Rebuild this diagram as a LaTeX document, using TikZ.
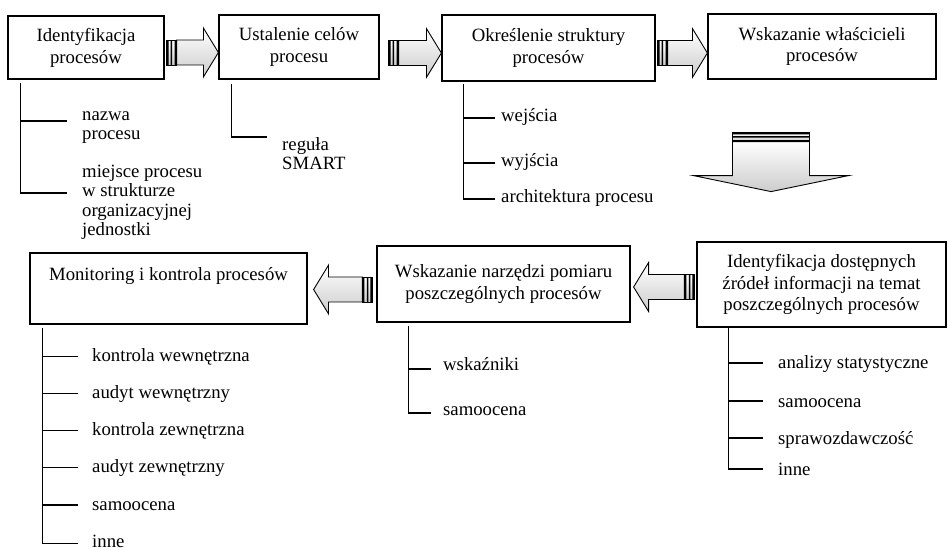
\documentclass[tikz,border=0pt]{standalone}
\usepackage{fontspec}
\setmainfont{Liberation Serif}
\usetikzlibrary{calc}

\newcommand{\boxtextfont}{\fontsize{18.8}{22}\selectfont}
\newcommand{\itemtextfont}{\fontsize{18.8}{19.5}\selectfont}

% tail, tip, direction (1 = right, -1 = left)
\newcommand{\blockarrow}[3]{%
  \shade[fat] let \p1=(#1), \p2=(#2) in
    ({\x1+10*(#3)},{\y1+12.5}) -- ({\x2-15*(#3)},{\y1+12.5}) -- ({\x2-15*(#3)},{\y1+24.5})
    -- (\x2,\y1) -- ({\x2-15*(#3)},{\y1-24.5}) -- ({\x2-15*(#3)},{\y1-12.5})
    -- ({\x1+10*(#3)},{\y1-12.5}) -- cycle;
  \draw[fat] let \p1=(#1) in ({\x1},{\y1-12.5}) rectangle ({\x1+10*(#3)},{\y1+12.5});
  \fill let \p1=(#1) in
    ({\x1},{\y1-12.5}) rectangle ({\x1+2*(#3)},{\y1+12.5})
    ({\x1+4*(#3)},{\y1-12.5}) rectangle ({\x1+5.5*(#3)},{\y1+12.5})
    ({\x1+8*(#3)},{\y1-12.5}) rectangle ({\x1+10*(#3)},{\y1+12.5});
}

\begin{document}
\begin{tikzpicture}[x=1bp, y=-1bp,
    box/.style={draw, line width=1.2bp, inner sep=0pt, align=center, font=\boxtextfont},
    item/.style={anchor=base west, inner sep=0pt, align=left, font=\itemtextfont},
    tree/.style={line width=1.2bp},
    fat/.style={draw, line width=0.9bp, top color=white, bottom color=gray!40}]

    \useasboundingbox (0,0) rectangle (949,550);

    \node (b1) at (86,47.5) [box, minimum width=156bp, minimum height=63bp] {Identyfikacja\\procesów};
    \node (b2) at (299,47) [box, minimum width=160bp, minimum height=64bp] {Ustalenie celów\\procesu};
    \node (b3) at (548.5,48) [box, minimum width=213bp, minimum height=66bp] {Określenie struktury\\procesów};
    \node (b4) at (822,46.5) [box, minimum width=228bp, minimum height=65bp] {Wskazanie właścicieli\\procesów};
    \node (b5) at (168.5,288.5) [box, minimum width=277bp, minimum height=71bp] {Monitoring i kontrola procesów\\\strut};
    \node (b6) at (503.5,284) [box, minimum width=253bp, minimum height=76bp] {Wskazanie narzędzi pomiaru\\poszczególnych procesów};
    \node (b7) at (821.5,284.5) [box, minimum width=249bp, minimum height=85bp] {Identyfikacja dostępnych\\źródeł informacji na temat\\poszczególnych procesów};

    \node (n1) at (82,140) [item] {nazwa\\procesu};
    \node (n2) at (82,235.5) [item] {miejsce procesu\\w strukturze\\organizacyjnej\\jednostki};
    \node (r1) at (282,170) [item] {reguła\\SMART};
    \node (s1) at (501,122) [item] {wejścia};
    \node (s2) at (501,167) [item] {wyjścia};
    \node (s3) at (501,203) [item] {architektura procesu};
    \foreach \t [count=\i] in {kontrola wewnętrzna, audyt wewnętrzny, kontrola zewnętrzna, audyt zewnętrzny, samoocena, inne}
        \node (m\i) at (92,{324+37.2*\i}) [item] {\t};
    \node (w1) at (443,371) [item] {wskaźniki};
    \node (w2) at (443,415) [item] {samoocena};
    \node (q1) at (778,369) [item] {analizy statystyczne};
    \node (q2) at (778,407) [item] {samoocena};
    \node (q3) at (778,444) [item] {sprawozdawczość};
    \node (q4) at (778,475) [item] {inne};

    \draw[tree] ($(b1.south west)+(13,3)$) coordinate (t1) |- ($(n2.base west)+(-15,-42.5)$);
    \draw[tree] ($(t1 |- n1.base)+(0,-19)$) -- ($(n1.base west)+(-15,-19)$);
    \draw[tree] ($(b2.south west)+(13,4)$) |- ($(r1.base west)+(-15,-33)$);
    \draw[tree] ($(b3.south west)+(22,2)$) coordinate (t3) |- ($(s3.base west)+(-6,-4)$);
    \foreach \n in {s1,s2}
        \draw[tree] ($(t3 |- \n.base)+(0,-4)$) -- ($(\n.base west)+(-6,-4)$);
    \draw[tree] ($(b5.south west)+(13,3)$) coordinate (t5) |- ($(m6.base west)+(-14,-4)$);
    \foreach \i in {1,...,5}
        \draw[tree] ($(t5 |- m\i.base)+(0,-5)$) -- ($(m\i.base west)+(-14,-5)$);
    \draw[tree] ($(b6.south west)+(32,3)$) coordinate (t6) |- ($(w2.base west)+(-12,-2)$);
    \draw[tree] ($(t6 |- w1.base)+(0,-2)$) -- ($(w1.base west)+(-12,-2)$);
    \draw[tree] ($(b7.south west)+(32,0)$) coordinate (t7) |- ($(q4.base west)+(-15,-6)$);
    \foreach \n in {q1,q2,q3}
        \draw[tree] ($(t7 |- \n.base)+(0,-6)$) -- ($(\n.base west)+(-15,-6)$);

    \coordinate (a1) at ($(b1.east)+(2,5)$);
    \coordinate (a2) at ($(b2.east)+(9,6)$);
    \coordinate (a3) at ($(b3.east)+(2,5)$);
    \coordinate (a4) at ($(b7.west)+(-2,2.5)$);
    \coordinate (a5) at ($(b6.west)+(-4,5.5)$);
    \blockarrow{a1}{a1 -| b2.west}{1}
    \blockarrow{a2}{a2 -| b3.west}{1}
    \blockarrow{a3}{a3 -| b4.west}{1}
    \blockarrow{a4}{$(a4 -| b6.east)+(3,0)$}{-1}
    \blockarrow{a5}{$(a5 -| b5.east)+(6,0)$}{-1}

    \coordinate (d) at ($(b4.south)+(-51,53)$);
    \begin{scope}[shift={(d)}]
        \shade[fat] (-38.5,9) -- (38.5,9) -- (38.5,43) -- (77.5,43) -- (0,59) -- (-77.5,43) -- (-38.5,43) -- cycle;
        \draw[fat] (-38.5,0) rectangle (38.5,9);
        \fill (-38.5,0) rectangle (38.5,1.8) (-38.5,3.5) rectangle (38.5,5) (-38.5,7.5) rectangle (38.5,9);
    \end{scope}

\end{tikzpicture}
\end{document}
